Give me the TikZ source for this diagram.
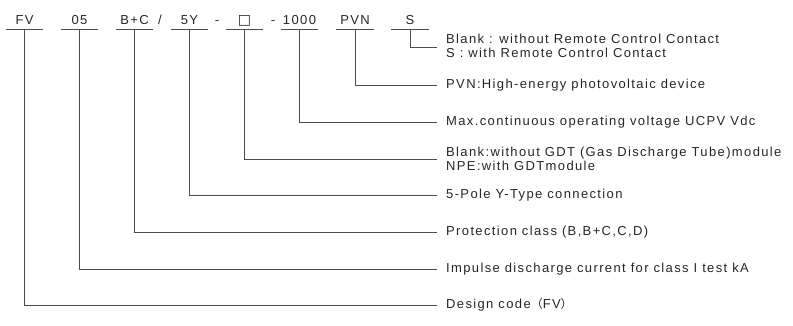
\documentclass[tikz,border=0pt]{standalone}
\usepackage{fontspec}
\setmainfont[LetterSpace=10.5]{Liberation Sans}
\newfontfamily\symfont{DejaVu Sans}
\newfontfamily\cjk{Noto Sans CJK SC}
\usetikzlibrary{positioning}

\begin{document}
\begin{tikzpicture}[
  x=1pt, y=-1pt,
  font=\fontsize{13}{14.3}\selectfont,
  code/.style={
    minimum width=37pt, inner sep=0pt, text depth=4pt,
    anchor=south, text=black!85,
  },
  sep/.style={inner sep=0pt, anchor=base, text=black!85},
  desc/.style={
    anchor=west, inner xsep=9pt, inner ysep=0pt,
    align=left, text=black!85,
  },
  lead/.style={draw=black!70, line width=0.7pt},
]
\useasboundingbox (0,0) rectangle (793,326);

% order code
\node[code] (fv)   at (24.5,29)  {FV};
\node[code] (ka)   at (79.5,29)  {05};
\node[code] (cls)  at (134.5,29) {B+C};
\node[sep]  (sl)   at (160,25)   {/};
\node[code] (pole) at (189.5,29) {5Y};
\node[sep]  (d1)   at (217,25)   {-};
\node[code] (gdt)  at (244.5,29) {\symfont\fontsize{14}{15}\selectfont □};
\node[sep]  (d2)   at (273,25)   {-};
\node[code] (volt) at (299.5,29) {1000};
\node[code] (pvn)  at (355,29)   {PVN};
\node[code] (rc)   at (410,29)   {S};

\foreach \n in {fv,ka,cls,pole,gdt,volt,pvn,rc}
  \draw[lead] (\n.south west) -- (\n.south east);

% meanings
\node[desc] (drc)   at (437,46)  {Blank : without Remote Control Contact\\S : with Remote Control Contact};
\node[desc] (dpvn)  at (437,85.5) {PVN:High-energy photovoltaic device};
\node[desc] (dvolt) at (437,122) {Max.continuous operating voltage UCPV Vdc};
\node[desc] (dgdt)  at (437,159) {Blank:without GDT (Gas Discharge Tube)module\\NPE:with GDTmodule};
\node[desc] (dpole) at (437,195) {5-Pole Y-Type connection};
\node[desc] (dcls)  at (437,232) {Protection class (B,B+C,C,D)};
\node[desc] (dka)   at (437,269) {Impulse discharge current for class I test kA};
\node[desc] (dfv)   at (437,305) {Design code{\cjk\fontsize{12}{14}\selectfont （}FV{\cjk\fontsize{12}{14}\selectfont ）}};

\draw[lead] (rc.south) |- ([yshift=-1.5pt]drc.west);
\draw[lead] (pvn.south) |- (dpvn.west);
\draw[lead] (volt.south) |- (dvolt.west);
\draw[lead] (gdt.south) |- (dgdt.west);
\draw[lead] (pole.south) |- (dpole.west);
\draw[lead] (cls.south) |- (dcls.west);
\draw[lead] (ka.south) |- (dka.west);
\draw[lead] (fv.south) |- (dfv.west);

\end{tikzpicture}
\end{document}
